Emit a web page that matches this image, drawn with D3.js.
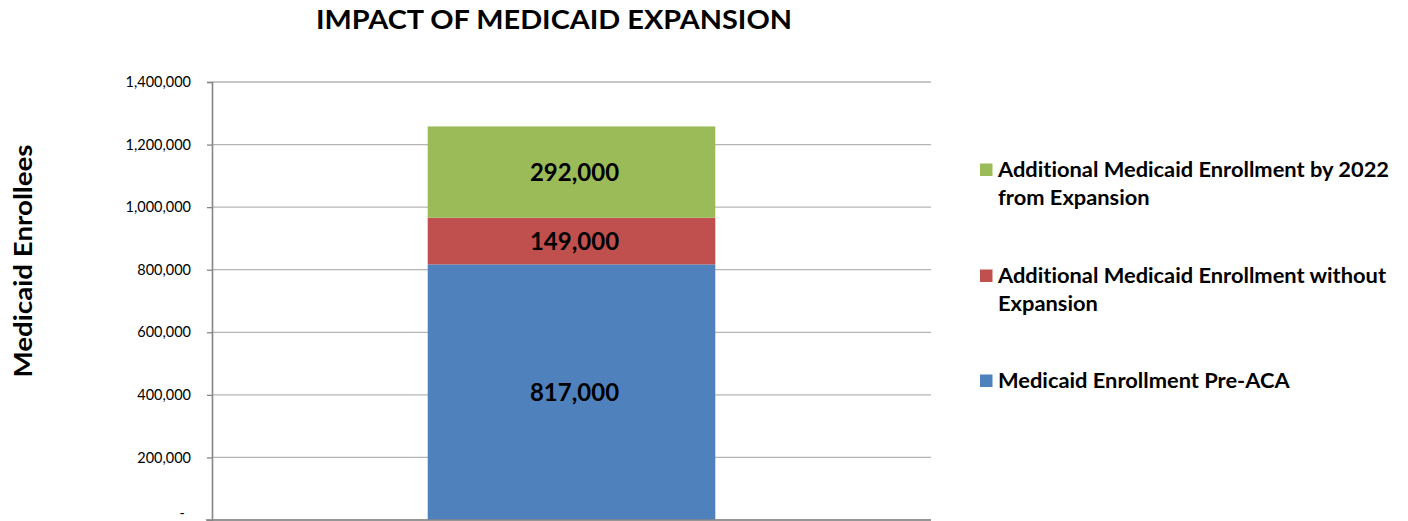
<!DOCTYPE html>
<html>
<head>
<meta charset="utf-8">
<script src="https://cdn.jsdelivr.net/npm/d3@7"></script>
<style>
  html, body { margin: 0; padding: 0; background: #fff; }
  svg { display: block; font-family: Lato, "Open Sans", "DejaVu Sans", sans-serif;
        font-variant-ligatures: none; font-feature-settings: "liga" 0, "clig" 0; }
</style>
</head>
<body>
<svg id="chart" width="1408" height="521"></svg>
<script>
// Stacked enrolment figures (one column)
const categories = ["Medicaid Enrollment"];
const seriesNames = [
  "Medicaid Enrollment Pre-ACA",
  "Additional Medicaid Enrollment without Expansion",
  "Additional Medicaid Enrollment by 2022 from Expansion"
];
const seriesValues = [817000, 149000, 292000];
const seriesColors = ["#4F81BD", "#C0504D", "#9BBB59"];
const yTicks = [0, 200000, 400000, 600000, 800000, 1000000, 1200000, 1400000];
const legendLines = [
  ["Additional Medicaid Enrollment by 2022", "from Expansion"],
  ["Additional Medicaid Enrollment without", "Expansion"],
  ["Medicaid Enrollment Pre-ACA"]
];
const legendColors = ["#9BBB59", "#C0504D", "#4F81BD"];

const svg = d3.select("#chart");
const plot = { left: 212, right: 931, top: 82, bottom: 520 };

const y = d3.scaleLinear().domain([0, 1400000]).range([plot.bottom, plot.top]);
const x = d3.scaleBand().domain(categories).range([plot.left, plot.right])
  .paddingInner(0.6).paddingOuter(0.3);

// Title
svg.append("text")
  .attr("x", 554).attr("y", 29)
  .attr("text-anchor", "middle")
  .attr("font-size", 27).attr("font-weight", 700)
  .attr("textLength", 476).attr("lengthAdjust", "spacingAndGlyphs")
  .text("IMPACT OF MEDICAID EXPANSION");

// Y axis title
svg.append("text")
  .attr("transform", "translate(32,261) rotate(-90)")
  .attr("text-anchor", "middle")
  .attr("font-size", 25).attr("font-weight", 700)
  .attr("textLength", 233).attr("lengthAdjust", "spacingAndGlyphs")
  .text("Medicaid Enrollees");

// Horizontal gridlines
svg.append("g")
  .selectAll("line")
  .data(yTicks)
  .join("line")
  .attr("x1", plot.left).attr("x2", plot.right)
  .attr("y1", d => y(d)).attr("y2", d => y(d))
  .attr("stroke", "#b5b5b5").attr("stroke-width", 1.3);

// Stacked bar segments
const stacked = [];
let acc = 0;
seriesValues.forEach((v, i) => {
  stacked.push({ name: seriesNames[i], value: v, y0: acc, y1: acc + v, color: seriesColors[i] });
  acc += v;
});

const bars = svg.append("g");
bars.selectAll("rect")
  .data(stacked)
  .join("rect")
  .attr("x", x(categories[0]))
  .attr("width", x.bandwidth())
  .attr("y", d => y(d.y1))
  .attr("height", d => y(d.y0) - y(d.y1))
  .attr("fill", d => d.color);

bars.selectAll("text")
  .data(stacked)
  .join("text")
  .attr("x", x(categories[0]) + x.bandwidth() / 2 + 3)
  .attr("y", d => (y(d.y0) + y(d.y1)) / 2 + 9)
  .attr("text-anchor", "middle")
  .attr("font-size", 24).attr("font-weight", 700)
  .attr("fill", "#000")
  .text(d => d3.format(",")(d.value));

// Y axis
const yAxis = d3.axisLeft(y)
  .tickValues(yTicks)
  .tickSize(5)
  .tickPadding(16)
  .tickFormat(d => d === 0 ? "-" : d3.format(",")(d));

const ag = svg.append("g")
  .attr("transform", `translate(${plot.left},0)`)
  .call(yAxis);
ag.select(".domain").attr("stroke", "#868686").attr("stroke-width", 1.6);
ag.selectAll(".tick line").attr("stroke", "#868686").attr("stroke-width", 1.3);
ag.selectAll(".tick text")
  .attr("font-family", "Lato, 'Open Sans', sans-serif")
  .attr("font-size", 14.5)
  .attr("fill", "#000")
  .attr("dx", d => d === 0 ? -6 : 0)
  .attr("dy", d => d === 0 ? "-0.2em" : "0.32em");

// Bottom axis line
svg.append("line")
  .attr("x1", plot.left - 6).attr("x2", plot.right)
  .attr("y1", y(0)).attr("y2", y(0))
  .attr("stroke", "#868686").attr("stroke-width", 1.6);

// Legend: each line is its own text element, widened uniformly so the
// longest entry spans the legend column
const legendTop = [177, 283, 388];
const legendFont = 20;
const legendWidest = 391;
const lg = svg.append("g");
const legendTexts = [];
legendLines.forEach((lines, i) => {
  lg.append("rect")
    .attr("x", 980).attr("y", legendTop[i] - 13.5)
    .attr("width", 12.5).attr("height", 12.5)
    .attr("fill", legendColors[i]);
  lines.forEach((ln, j) => {
    const t = lg.append("text")
      .attr("x", 998).attr("y", legendTop[i] + j * 28)
      .attr("font-size", legendFont).attr("font-weight", 700)
      .attr("fill", "#000")
      .text(ln);
    legendTexts.push(t);
  });
});
const firstLen = legendTexts[0].node().getComputedTextLength();
const stretch = legendWidest / firstLen;
legendTexts.forEach(t => {
  const len = t.node().getComputedTextLength();
  t.attr("textLength", len * stretch).attr("lengthAdjust", "spacingAndGlyphs");
});
</script>
</body>
</html>
